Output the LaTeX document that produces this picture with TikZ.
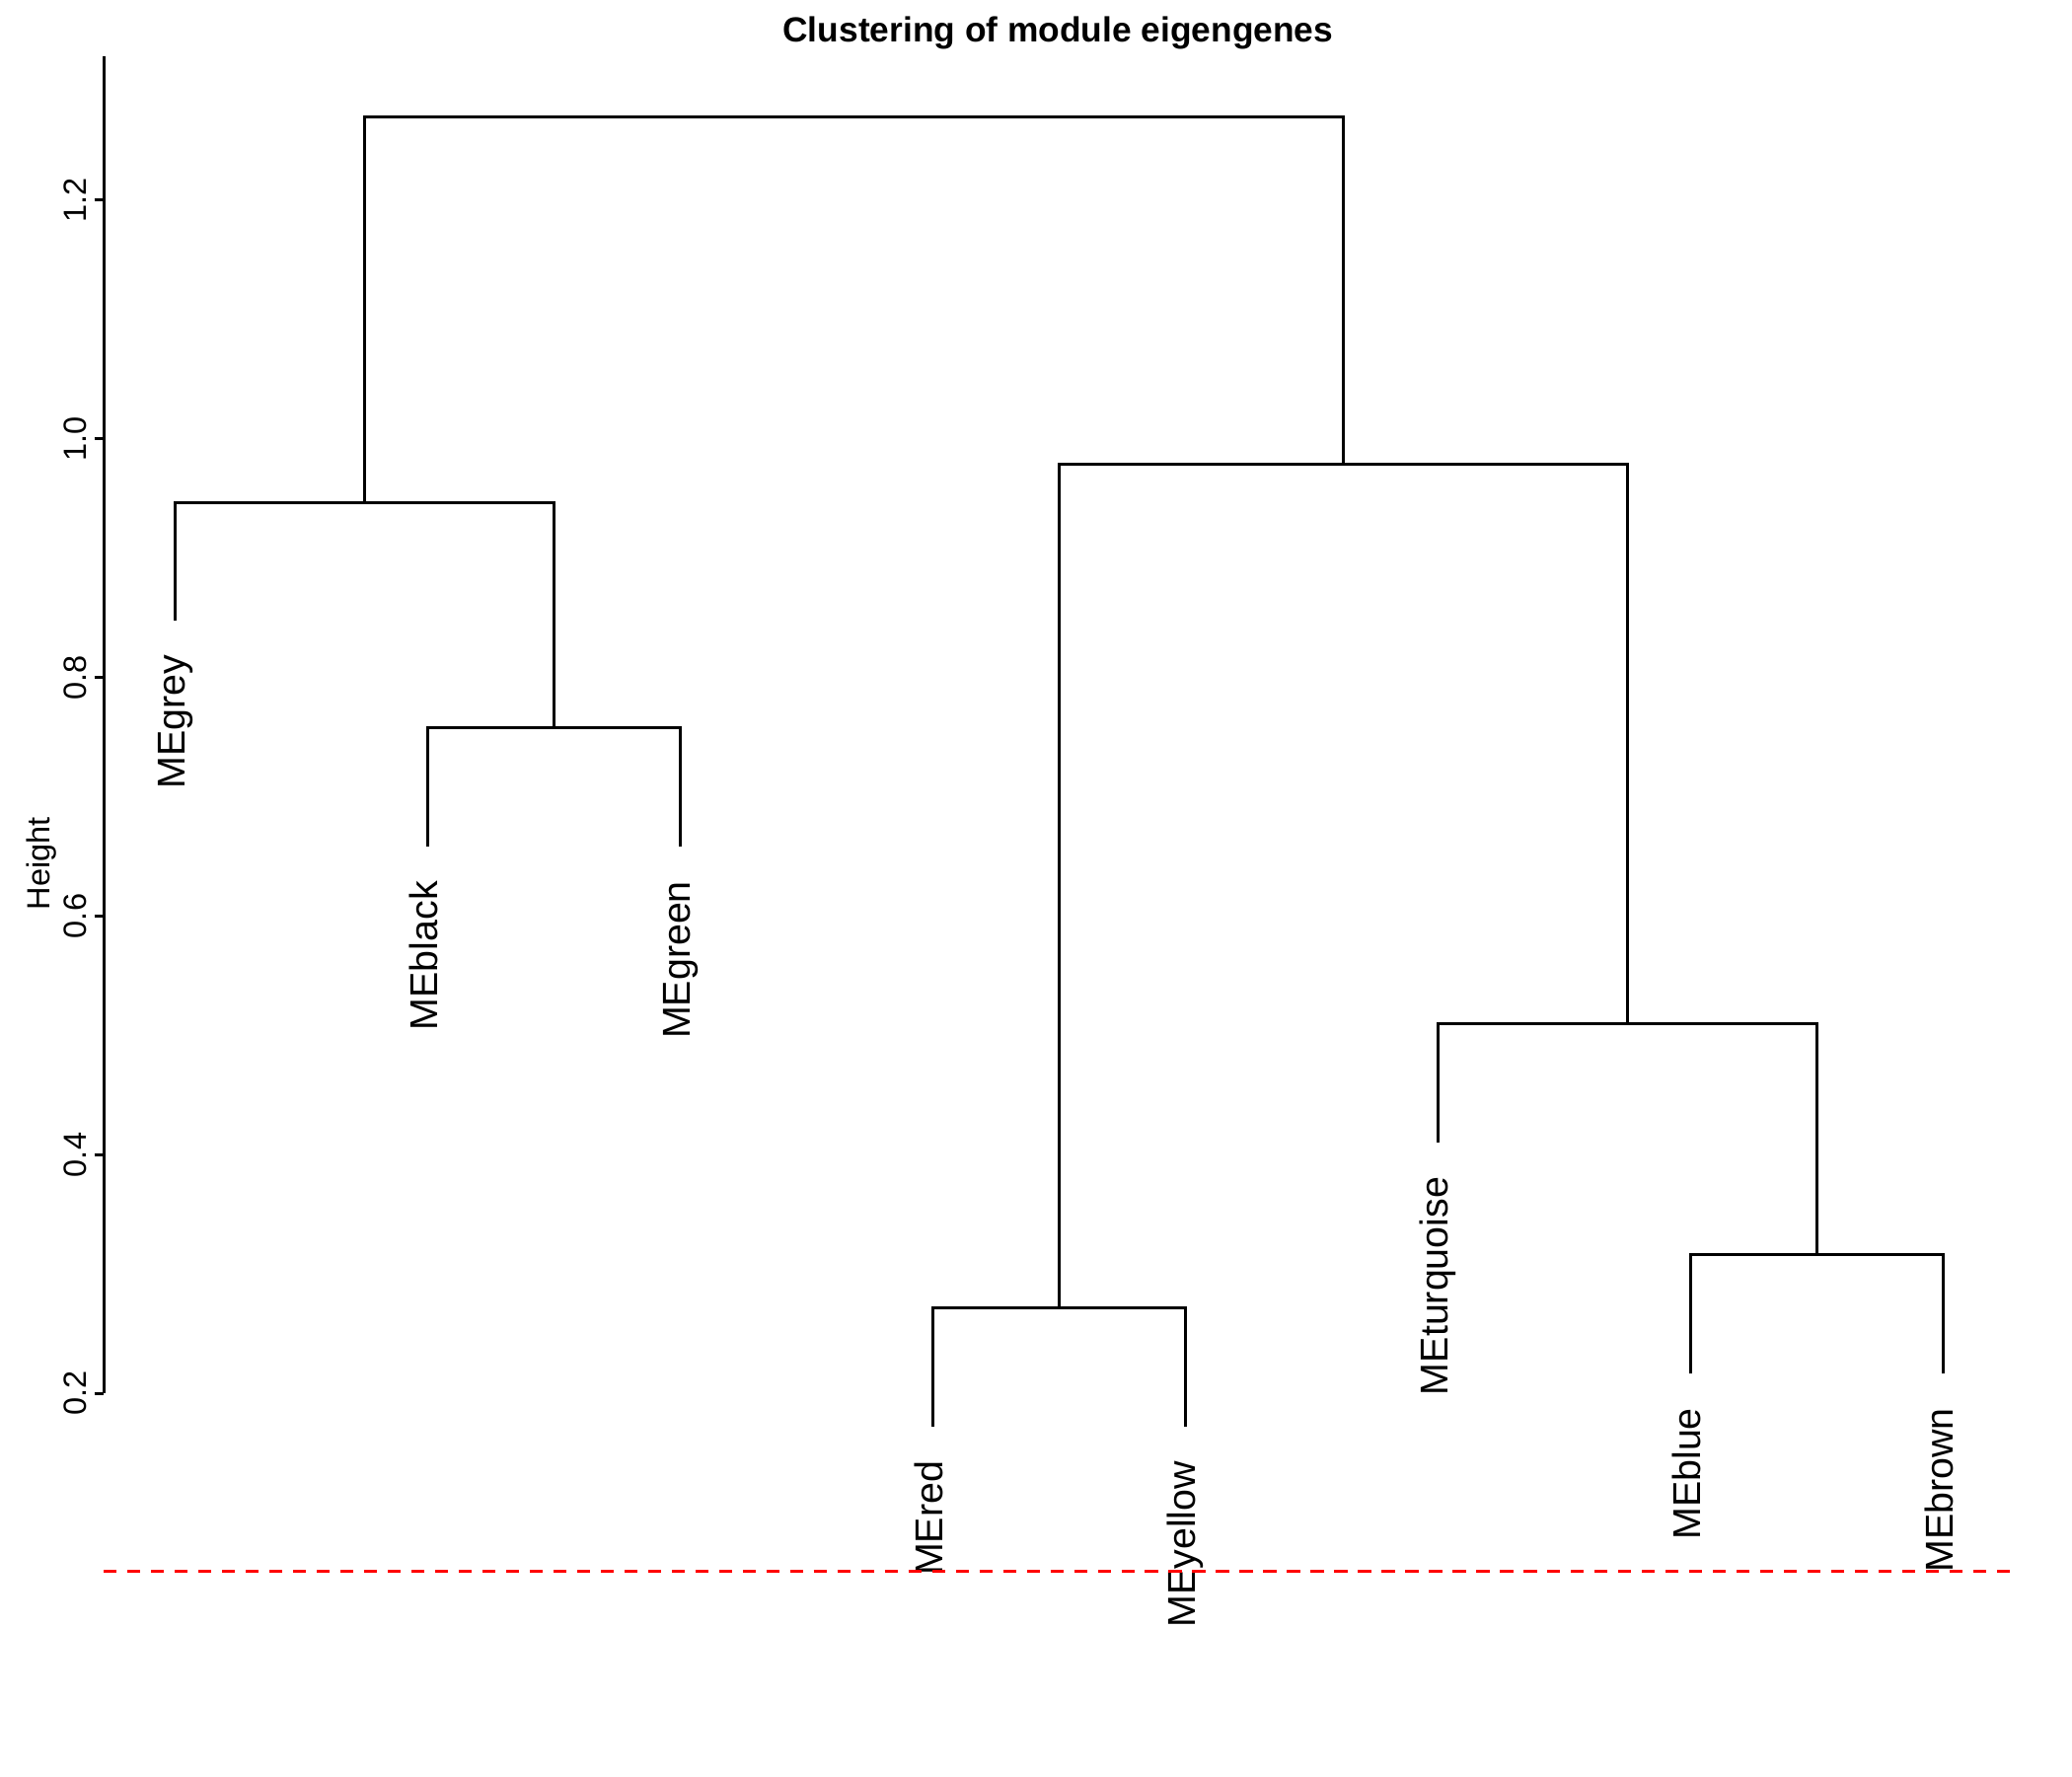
\documentclass[tikz,border=0pt]{standalone}
\usepackage{fontspec}
\setmainfont{Liberation Sans}
\begin{document}
\begin{tikzpicture}[x=0.01cm,y=-0.01cm,
  branch/.style={line width=0.8pt},
  leaflab/.style={rotate=90,anchor=base east,inner sep=0pt,font=\fontsize{11.2}{13}\selectfont},
  ticklab/.style={rotate=90,anchor=base,inner sep=0pt,font=\fontsize{9.25}{11}\selectfont},
  cutline/.style={red,line width=0.77pt,dash pattern=on 3.78pt off 3.04pt}]
\useasboundingbox (0,0) rectangle (2100,1800);
% title
\node[anchor=base,inner sep=0pt,font=\fontsize{10.05}{12}\selectfont\bfseries] (title) at (1072.3,42.1) {Clustering of module eigengenes};
% y axis
\coordinate (axtop) at (105.4,57.4);
\coordinate (axbot) at (105.4,1412.3);
\draw[line width=0.8pt] (axtop) -- (axbot);
\foreach \v/\yy in {0.2/1412.3,0.4/1170.5,0.6/928.5,0.8/686.6,1.0/444.7,1.2/202.8}{
  \draw[line width=0.8pt] (95.6,\yy) -- (105.4,\yy);
  \node[ticklab] at (87.3,\yy) {\v};
}
\node[ticklab] (ylab) at (50,875) {Height};
% leaf tips
\coordinate (lgrey) at (177.7,628.9);
\coordinate (lblack) at (433.7,858.4);
\coordinate (lgreen) at (689.7,858.4);
\coordinate (lred) at (945.7,1446.2);
\coordinate (lyellow) at (1201.7,1446.2);
\coordinate (lturq) at (1457.7,1158.2);
\coordinate (lblue) at (1713.7,1392.4);
\coordinate (lbrown) at (1969.7,1392.4);
% merges
\coordinate (mA) at (561.7,737.4);
\coordinate (mB) at (369.7,509.8);
\coordinate (mC) at (1073.7,1325.2);
\coordinate (mD) at (1841.7,1271.4);
\coordinate (mE) at (1649.7,1037.3);
\coordinate (mF) at (1361.7,470.7);
\coordinate (mG) at (865.7,118.6);
% branches
\draw[branch] (lblack) |- (mA) -| (lgreen);
\draw[branch] (lgrey) |- (mB) -| (mA);
\draw[branch] (lred) |- (mC) -| (lyellow);
\draw[branch] (lblue) |- (mD) -| (lbrown);
\draw[branch] (lturq) |- (mE) -| (mD);
\draw[branch] (mC) |- (mF) -| (mE);
\draw[branch] (mB) |- (mG) -| (mF);
% leaf labels
\node[leaflab] (tgrey) at ([shift={(10,34)}]lgrey) {MEgrey};
\node[leaflab] (tblack) at ([shift={(10,34)}]lblack) {MEblack};
\node[leaflab] (tgreen) at ([shift={(10,34)}]lgreen) {MEgreen};
\node[leaflab] (tred) at ([shift={(10,34)}]lred) {MEred};
\node[leaflab] (tyellow) at ([shift={(10,34)}]lyellow) {MEyellow};
\node[leaflab] (tturq) at ([shift={(10,34)}]lturq) {MEturquoise};
\node[leaflab] (tblue) at ([shift={(10,34)}]lblue) {MEblue};
\node[leaflab] (tbrown) at ([shift={(10,34)}]lbrown) {MEbrown};
% cut line
\coordinate (cutL) at (105.2,1592.3);
\coordinate (cutR) at (2037.7,1592.3);
\draw[cutline] (cutL) -- (cutR);
\end{tikzpicture}
\end{document}
